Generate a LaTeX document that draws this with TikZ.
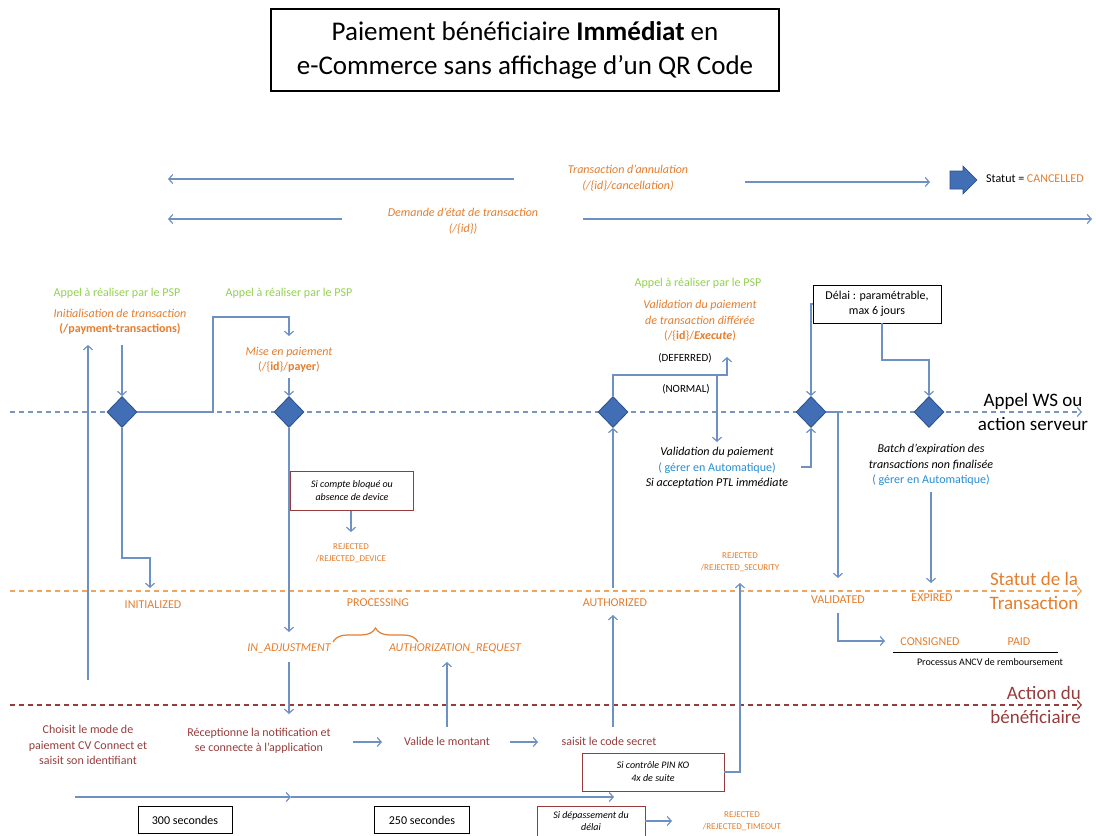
\documentclass[tikz,border=0pt]{standalone}
\usepackage{fontspec}
\setmainfont{Carlito}
\usetikzlibrary{arrows.meta,shapes.geometric,shapes.arrows,decorations.pathreplacing}
\definecolor{cblue}{RGB}{110,145,195}
\definecolor{dashblue}{RGB}{120,150,190}
\definecolor{corange}{RGB}{228,125,45}
\definecolor{dashorange}{RGB}{240,165,95}
\definecolor{cgreen}{RGB}{146,208,80}
\definecolor{cred}{RGB}{150,60,60}
\definecolor{ctblue}{RGB}{40,140,210}
\definecolor{dblue}{RGB}{65,110,180}
\definecolor{ddblue}{RGB}{40,80,140}
\tikzset{
  tip/.style={-{Straight Barb[length=4pt,width=9pt]}},
  conn/.style={draw=cblue, line width=1.2pt, tip},
  dashln/.style={line width=1.2pt, dash pattern=on 5pt off 4pt, tip},
  dia/.style={diamond, fill=dblue, draw=ddblue, line width=0.8pt, minimum width=30pt, minimum height=31pt, inner sep=0pt},
  lbl/.style={font=\fontsize{12}{15.5}\selectfont, align=center, inner sep=1pt},
  olbl/.style={lbl, text=corange},
  glbl/.style={lbl, text=cgreen},
  rlbl/.style={lbl, text=cred},
  small/.style={font=\fontsize{10}{13}\selectfont, align=center, inner sep=1pt},
  rej/.style={font=\fontsize{9}{12.5}\selectfont, align=center, inner sep=1pt, text=corange},
  redbox/.style={draw=cred, line width=0.9pt, small, minimum height=38pt},
  blkbox/.style={draw=black, line width=0.9pt, lbl, minimum height=27pt},
  big/.style={font=\fontsize{19}{24}\selectfont, align=center, inner sep=1pt}
}
\begin{document}
\begin{tikzpicture}[x=1pt,y=-1pt]
\useasboundingbox (0,0) rectangle (1096,836);

% title
\node[draw, line width=2.5pt, minimum width=508pt, minimum height=82pt,
  font=\fontsize{27}{34}\selectfont, align=center] (title) at (525,50)
  {Paiement bénéficiaire \textbf{Immédiat} en\\e-Commerce sans affichage d’un QR Code};

% top arrows
\coordinate (a1s) at (514,179); \coordinate (a1e) at (168,179);
\coordinate (a2s) at (745,182); \coordinate (a2e) at (930,182);
\coordinate (a3s) at (342,219); \coordinate (a3e) at (168,219);
\coordinate (a4s) at (583,219); \coordinate (a4e) at (1092,219);
\draw[conn] (a1s) -- (a1e);
\draw[conn] (a2s) -- (a2e);
\draw[conn] (a3s) -- (a3e);
\draw[conn] (a4s) -- (a4e);
\node[olbl, font=\fontsize{12}{16}\selectfont\itshape] (annul) at (628,178)
  {Transaction d’annulation\\(/\{id\}/cancellation)};
\node[olbl, font=\fontsize{12}{16}\selectfont\itshape] (etat) at (463,221)
  {Demande d’état de transaction\\(/\{id\})};
\filldraw[fill=dblue, draw=ddblue, line width=0.6pt]
  (950,171) -- (963,171) -- (963,166) -- (977,180) -- (963,194) -- (963,189) -- (950,189) -- cycle;
\node[lbl, anchor=west] (cancel) at (985,179) {Statut = \textcolor{corange}{CANCELLED}};

% swimlane lines
\coordinate (ws0) at (10,412); \coordinate (ws1) at (1082,412);
\coordinate (st0) at (10,591); \coordinate (st1) at (1082,591);
\coordinate (ac0) at (10,705); \coordinate (ac1) at (1082,705);
\draw[dashln, draw=dashblue] (ws0) -- (ws1);
\draw[dashln, draw=dashorange] (st0) -- (st1);
\draw[dashln, draw=cred] (ac0) -- (ac1);
\node[big, text=black] (wslbl) at (1033,412) {Appel WS ou\\action serveur};
\node[big, text=corange] (stlbl) at (1034,591) {Statut de la\\Transaction};
\node[big, text=cred, align=right, anchor=east] (aclbl) at (1082,705) {Action du\\bénéficiaire};

% diamonds
\node[dia] (d1) at (122,412) {};
\node[dia] (d2) at (289,412) {};
\node[dia] (d3) at (613,412) {};
\node[dia] (d4) at (811,412) {};
\node[dia] (d5) at (929,412) {};

% PSP calls
\node[glbl] (g1) at (117,293) {Appel à réaliser par le PSP};
\node[glbl] (g2) at (289,293) {Appel à réaliser par le PSP};
\node[glbl] (g3) at (698,283) {Appel à réaliser par le PSP};
\node[olbl] (init) at (120,322) {\textit{Initialisation de transaction}\\\textbf{(/payment-transactions)}};
\node[olbl] (mise) at (289,360) {\textit{Mise en paiement}\\(/\{\textbf{id}\}/\textbf{payer})};
\node[olbl] (exec) at (700,321) {\textit{Validation du paiement}\\\textit{de transaction différée}\\(/\{\textbf{id}\}/\textbf{\textit{Execute}})};
\node[lbl, font=\fontsize{11}{14}\selectfont] (deferred) at (685,358) {(DEFERRED)};
\node[lbl, font=\fontsize{11}{14}\selectfont] (normal) at (686,389) {(NORMAL)};
\node[lbl] (valid) at (717,468) {\textit{Validation du paiement}\\\textcolor{ctblue}{( gérer en Automatique)}\\\textit{Si acceptation PTL immédiate}};
\node[blkbox, minimum width=128pt, minimum height=38pt] (delai) at (877,304) {Délai : paramétrable,\\max 6 jours};
\node[lbl] (batch) at (931,465) {\textit{Batch d’expiration des}\\\textit{transactions non finalisée}\\\textcolor{ctblue}{( gérer en Automatique)}};

% connectors upper part
\coordinate (upb) at (88,680); \coordinate (upt) at (88,345);
\draw[conn] (upb) -- (upt);
\coordinate (i1) at (122,345);
\draw[conn] (i1) -- (d1.north);
\coordinate (m1) at (213,412); \coordinate (m2) at (289,317); \coordinate (m3) at (289,336);
\draw[conn] (d1.east) -- (m1) |- (m2) -- (m3);
\coordinate (m4) at (289,378);
\draw[conn] (m4) -- (d2.north);
\coordinate (dfa) at (727,375); \coordinate (dft) at (727,357);
\draw[conn] (d3.north) |- (dfa) -- (dft);
\coordinate (nra) at (717,375); \coordinate (nrt) at (717,442);
\draw[conn] (nra) -- (nrt);
\coordinate (vs) at (801,467);
\draw[conn] (vs) -| (d4.south);
\draw[conn] (delai.west) -| (d4.north);
\coordinate (dl1) at (882,323);
\draw[conn] (dl1) -- ++(0,37) -| (d5.north);

% status labels
\node[olbl] (initd) at (153,605) {INITIALIZED};
\node[olbl] (proc) at (378,603) {PROCESSING};
\node[olbl, font=\fontsize{12}{15}\selectfont\itshape] (inadj) at (289,648) {IN\_ADJUSTMENT};
\node[olbl, font=\fontsize{12}{15}\selectfont\itshape] (authreq) at (455,648) {AUTHORIZATION\_REQUEST};
\node[olbl] (authd) at (615,603) {AUTHORIZED};
\node[olbl] (validated) at (838,600) {VALIDATED};
\node[olbl] (expired) at (932,598) {EXPIRED};
\node[rej] (rejsec) at (740,562) {REJECTED\\/REJECTED\_SECURITY};
\node[redbox, minimum width=123pt, minimum height=39pt, font=\fontsize{10}{13}\selectfont\itshape] (boxdev) at (352,491) {Si compte bloqué ou\\absence de device};
\node[rej] (rejdev) at (351,553) {REJECTED\\/REJECTED\_DEVICE};
\draw[corange, line width=1.2pt, decorate, decoration={brace, amplitude=14pt}] (333,642) -- (418,642);
\node[olbl] (consigned) at (930,642) {CONSIGNED};
\node[olbl] (paid) at (1019,642) {PAID};
\coordinate (ul0) at (893,652); \coordinate (ul1) at (1058,652);
\draw[black, line width=1pt] (ul0) -- (ul1);
\node[small] (ancv) at (990,662) {Processus ANCV de remboursement};

% connectors to status
\coordinate (in1) at (150,558); \coordinate (in2) at (150,588);
\draw[conn] (d1.south) |- (in1) -- (in2);
\coordinate (ia1) at (289,632);
\draw[conn] (d2.south) -- (ia1);
\coordinate (rd1) at (351,532);
\draw[conn] (boxdev.south -| rd1) -- (rd1);
\coordinate (ia2) at (289,662); \coordinate (ia3) at (289,714);
\draw[conn] (ia2) -- (ia3);
\coordinate (ar0) at (447,727); \coordinate (ar1) at (447,662);
\draw[conn] (ar0) -- (ar1);
\coordinate (au0) at (613,727); \coordinate (au1) at (613,615);
\draw[conn] (au0) -- (au1);
\coordinate (au2) at (613,588);
\draw[conn] (au2) -- (d3.south);
\coordinate (va0) at (838,412); \coordinate (va1) at (838,578);
\draw[conn] (d4.east) -- (va0) -- (va1);
\coordinate (ex0) at (931,492); \coordinate (ex1) at (931,583);
\draw[conn] (ex0) -- (ex1);
\coordinate (cs0) at (838,613); \coordinate (cs1) at (885,641);
\draw[conn] (cs0) |- (cs1);

% action row
\node[rlbl] (choisit) at (88,745) {Choisit le mode de\\paiement CV Connect et\\saisit son identifiant};
\node[rlbl] (recept) at (259,741) {Réceptionne la notification et\\se connecte à l’application};
\node[rlbl] (valide) at (447,741) {Valide le montant};
\node[rlbl] (saisit) at (609,741) {saisit le code secret};
\coordinate (r1) at (353,742); \coordinate (r2) at (382,742);
\draw[conn] (r1) -- (r2);
\coordinate (r3) at (510,742); \coordinate (r4) at (538,742);
\draw[conn] (r3) -- (r4);
\node[redbox, minimum width=142pt, font=\fontsize{10}{13}\selectfont\itshape] (pinbox) at (653,772) {Si contrôle PIN KO\\4x de suite};
\coordinate (rs1) at (740,583);
\draw[conn] (pinbox.east) -| (rs1);

% timeline
\coordinate (t0) at (75,797); \coordinate (t1) at (291,797); \coordinate (t2) at (614,797);
\draw[conn] (t0) -- (t1);
\draw[conn] (t1) -- (t2);
\node[blkbox, minimum width=94pt] (s300) at (185,820) {300 secondes};
\node[blkbox, minimum width=95pt] (s250) at (422,820) {250 secondes};
\node[redbox, minimum width=108pt, minimum height=30pt, font=\fontsize{10}{12.5}\selectfont\itshape] (depbox) at (591,821) {Si dépassement du\\délai};
\coordinate (to1) at (672,821);
\draw[conn] (depbox.east) -- (to1);
\node[rej] (rejto) at (742,821) {REJECTED\\/REJECTED\_TIMEOUT};
\end{tikzpicture}
\end{document}
